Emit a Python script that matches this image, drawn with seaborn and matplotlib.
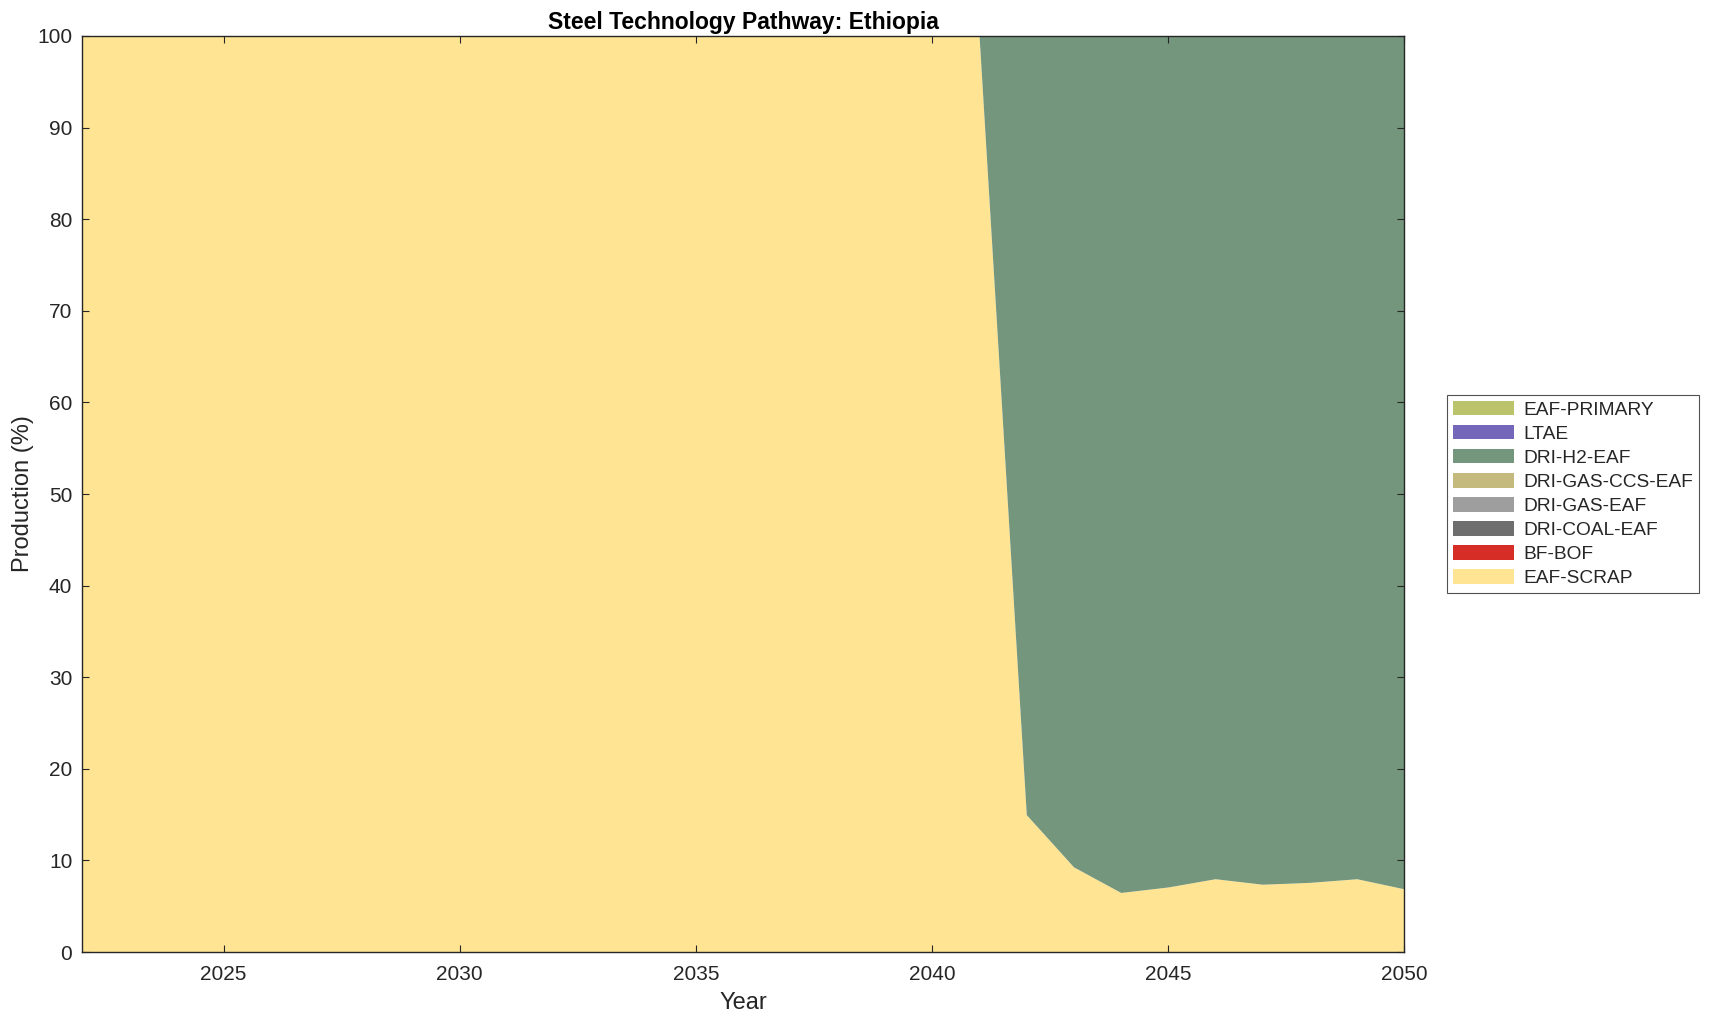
import numpy as np
import pandas as pd
import matplotlib
matplotlib.use("Agg")
import matplotlib.pyplot as plt
import seaborn as sns
from matplotlib.patches import Patch

years = list(range(2022, 2051))
eaf_scrap = [100]*20 + [15.0, 9.3, 6.5, 7.1, 8.0, 7.4, 7.6, 8.0, 6.9]
bf_bof = [0]*29
dri_coal_eaf = [0]*29
dri_gas_eaf = [0]*29
dri_gas_ccs_eaf = [0]*29
dri_h2_eaf = [0]*20 + [85.0, 90.7, 93.5, 92.9, 92.0, 92.6, 92.4, 92.0, 93.1]
ltae = [0]*29
eaf_primary = [0]*29

tech_names = ["EAF-SCRAP", "BF-BOF", "DRI-COAL-EAF", "DRI-GAS-EAF",
              "DRI-GAS-CCS-EAF", "DRI-H2-EAF", "LTAE", "EAF-PRIMARY"]
tech_colors = ["#FFE494", "#D62E26", "#6E6E6E", "#9E9E9E",
               "#C4BA7E", "#74967C", "#7466B8", "#BBC46A"]

df = pd.DataFrame({"Year": years, "EAF-SCRAP": eaf_scrap, "BF-BOF": bf_bof,
                   "DRI-COAL-EAF": dri_coal_eaf, "DRI-GAS-EAF": dri_gas_eaf,
                   "DRI-GAS-CCS-EAF": dri_gas_ccs_eaf, "DRI-H2-EAF": dri_h2_eaf,
                   "LTAE": ltae, "EAF-PRIMARY": eaf_primary})

sns.set_theme(style="white")
plt.rcParams['font.family'] = ['Liberation Sans', 'DejaVu Sans']

fig = plt.figure(figsize=(17.09, 10.21), dpi=100)
ax = fig.add_axes([82/1709, 1-952/1021, (1404-82)/1709, (952-36)/1021])

ax.stackplot(df["Year"], *[df[n] for n in tech_names], colors=tech_colors,
             linewidth=0)

ax.set_xlim(2022, 2050)
ax.set_ylim(0, 100)
ax.set_xticks([2025, 2030, 2035, 2040, 2045, 2050])
ax.set_yticks(range(0, 101, 10))
ax.tick_params(direction="in", length=5, width=0.8, colors="#262626",
               labelsize=15, top=True, right=True, bottom=True, left=True,
               labelcolor="#262626", pad=7)
ax.tick_params(axis="x", pad=9)
for s in ax.spines.values():
    s.set_color("#262626")
    s.set_linewidth(1.0)
    s.set_visible(True)
ax.set_axisbelow(False)

ax.set_xlabel("Year", fontsize=17, color="#262626", labelpad=6)
ax.set_ylabel("Production (%)", fontsize=17, color="#262626", labelpad=2)
ax.set_title("Steel Technology Pathway: Ethiopia", fontsize=16.5,
             fontweight="bold", color="black", pad=5)

handles = [Patch(facecolor=c, edgecolor="none", label=n)
           for n, c in zip(tech_names, tech_colors)][::-1]
leg = ax.legend(handles=handles, loc="center left", bbox_to_anchor=(1.0325, 0.5),
                fontsize=13.8, frameon=True, fancybox=False, handlelength=3.2,
                handleheight=0.8, handletextpad=0.5, labelspacing=0.32,
                borderpad=0.3, borderaxespad=0)
leg.get_frame().set_edgecolor("#262626")
leg.get_frame().set_linewidth(0.8)

fig.savefig("out.png", dpi=100)
